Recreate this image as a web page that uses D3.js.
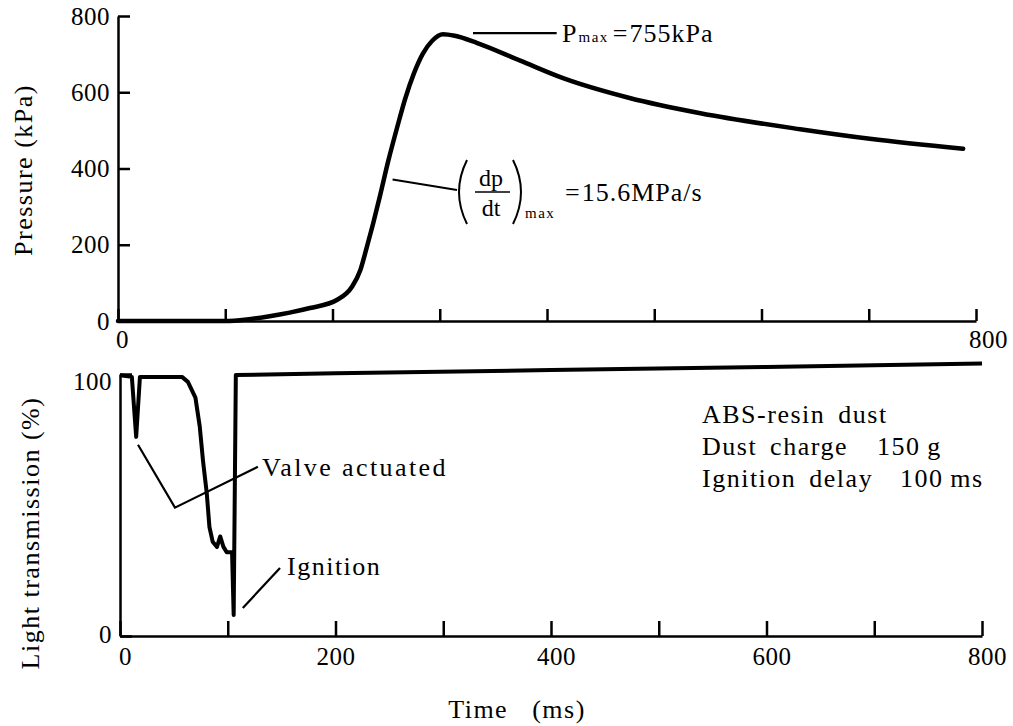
<!DOCTYPE html>
<html lang="en">
<head>
<meta charset="utf-8">
<title>Pressure and light transmission vs time</title>
<script src="https://cdn.jsdelivr.net/npm/d3@7/dist/d3.min.js"></script>
<style>
  body { margin: 0; background: #fff; }
  svg text { font-family: 'Liberation Serif', 'DejaVu Serif', 'Noto Serif', 'Tinos', 'FreeSerif', 'Times New Roman', Times, serif !important; fill: #000; }
  .axis path, .axis line { stroke: #000; stroke-width: 2.5; }
  .axis text { font-size: 25px; letter-spacing: 0.5px; }
  .lbl { font-size: 26px; letter-spacing: 1.5px; }
</style>
</head>
<body>
<script>
// pressure trace (ms, kPa)
const timeP = [0, 50, 100, 120, 140, 160, 179, 204, 218, 226, 232, 238, 244, 252, 260, 268, 276, 284, 293, 303, 314, 335, 375, 415, 477, 543, 636, 701, 788];
const pressure = [0, 0, 0, 4, 12, 22, 34, 55, 89, 134, 194, 257, 325, 420, 505, 585, 650, 700, 735, 752, 748, 729, 683, 637, 585, 545, 503, 478, 452];

// light transmission trace (ms, %)
const timeL = [0, 11, 15, 18.5, 57.5, 63, 70, 74, 77, 80.5, 83, 86, 90, 93, 96, 99, 104, 105.5, 107.5, 200, 400, 600, 800];
const light = [99.5, 98.9, 76, 98.9, 98.9, 97, 91, 80, 67, 54.6, 41.6, 36, 34, 38, 34, 32, 32, 8, 99.6, 100.3, 101.5, 102.7, 104];

const xTicks = [0, 100, 200, 300, 400, 500, 600, 700, 800];
const pTicks = [0, 200, 400, 600, 800];
const lTicks = [0, 100];

const w = 1013, h = 726;
const svg = d3.select("body").append("svg").attr("width", w).attr("height", h);
svg.append("rect").attr("width", w).attr("height", h).attr("fill", "#fff");

const xTop = d3.scaleLinear().domain([0, 800]).range([118, 976]);
const yP = d3.scaleLinear().domain([0, 800]).range([321, 16]);
const xBot = d3.scaleLinear().domain([0, 800]).range([120, 982]);
const yL = d3.scaleLinear().domain([0, 100]).range([636, 374]);

// ---- top panel axes
const gxTop = svg.append("g").attr("class", "axis")
  .attr("transform", "translate(0," + yP(0) + ")")
  .call(d3.axisBottom(xTop).tickValues(xTicks).tickSize(-12).tickSizeOuter(0)
    .tickFormat(d => (d === 0 || d === 800) ? d : ""));
gxTop.selectAll("text").attr("y", 27).attr("dy", 0).attr("dx", d => d === 800 ? 12 : 4);

const gyTop = svg.append("g").attr("class", "axis")
  .attr("transform", "translate(" + xTop(0) + ",0)")
  .call(d3.axisLeft(yP).tickValues(pTicks).tickSize(-12).tickSizeOuter(0));
gyTop.selectAll("text").attr("x", -8);

// ---- bottom panel axes
const gxBot = svg.append("g").attr("class", "axis")
  .attr("transform", "translate(0," + yL(0) + ")")
  .call(d3.axisBottom(xBot).tickValues(xTicks).tickSize(-15).tickSizeOuter(0)
    .tickFormat(d => d % 200 === 0 ? d : ""));
gxBot.selectAll("text").attr("y", 29).attr("dy", 0).attr("dx", d => d === 200 ? 0 : 5);

const gyBot = svg.append("g").attr("class", "axis")
  .attr("transform", "translate(" + xBot(0) + ",0)")
  .call(d3.axisLeft(yL).tickValues(lTicks).tickSize(-12).tickSizeOuter(0));
gyBot.selectAll("text").attr("x", -8).attr("dy", d => d === 100 ? "0.62em" : "0.25em");

svg.selectAll(".axis").attr("font-family", null);

// ---- curves
const pData = timeP.map((t, i) => ({ t: t, v: pressure[i] }));
const lData = timeL.map((t, i) => ({ t: t, v: light[i] }));

svg.append("path").datum(pData)
  .attr("fill", "none").attr("stroke", "#000").attr("stroke-width", 4.5)
  .attr("stroke-linecap", "round").attr("stroke-linejoin", "round")
  .attr("d", d3.line().x(d => xTop(d.t)).y(d => yP(d.v)).curve(d3.curveMonotoneX));

svg.append("path").datum(lData)
  .attr("fill", "none").attr("stroke", "#000").attr("stroke-width", 4)
  .attr("stroke-linejoin", "round")
  .attr("d", d3.line().x(d => xBot(d.t)).y(d => yL(d.v)).curve(d3.curveLinear));

// ---- axis titles
svg.append("text").attr("class", "lbl")
  .attr("transform", "translate(32,170) rotate(-90)")
  .attr("text-anchor", "middle").text("Pressure (kPa)");
svg.append("text").attr("class", "lbl")
  .attr("transform", "translate(39,533) rotate(-90)")
  .attr("text-anchor", "middle").text("Light transmission (%)");
svg.append("text").attr("class", "lbl")
  .attr("x", 517).attr("y", 718).attr("text-anchor", "middle")
  .attr("xml:space", "preserve").text("Time   (ms)");

// ---- annotations, top panel
const ln = (x1, y1, x2, y2, sw) => svg.append("line")
  .attr("x1", x1).attr("y1", y1).attr("x2", x2).attr("y2", y2)
  .attr("stroke", "#000").attr("stroke-width", sw || 2);

ln(xTop(331), yP(755), xTop(409), yP(755), 2.2);
const pm = svg.append("text").attr("y", 42).attr("font-size", 26);
pm.append("tspan").attr("x", 562).text("P");
pm.append("tspan").attr("font-size", 15).attr("dx", 2).attr("letter-spacing", 1.5).text("max");
pm.append("tspan").attr("dx", 4).text("=");
pm.append("tspan").attr("dx", 2).attr("letter-spacing", 1).text("755kPa");

ln(xTop(256), yP(371), 457, 190, 2);
svg.append("path").attr("d", "M467,160 Q451,192 467,224").attr("fill", "none").attr("stroke", "#000").attr("stroke-width", 2);
svg.append("path").attr("d", "M513,160 Q529,192 513,224").attr("fill", "none").attr("stroke", "#000").attr("stroke-width", 2);
svg.append("text").attr("x", 491).attr("y", 186).attr("font-size", 24).attr("text-anchor", "middle").text("dp");
ln(475, 192, 510, 192, 1.5);
svg.append("text").attr("x", 491).attr("y", 216).attr("font-size", 24).attr("text-anchor", "middle").text("dt");
svg.append("text").attr("x", 525).attr("y", 218).attr("font-size", 15).attr("letter-spacing", 1.5).text("max");
const dq = svg.append("text").attr("y", 201).attr("font-size", 26);
dq.append("tspan").attr("x", 565).text("=");
dq.append("tspan").attr("dx", 2).attr("letter-spacing", 1).text("15.6MPa/s");

// ---- annotations, bottom panel
svg.append("polyline")
  .attr("points", [[xBot(16.7), yL(73)], [xBot(51), yL(49)], [xBot(128), yL(64.6)]].map(p => p.join(",")).join(" "))
  .attr("fill", "none").attr("stroke", "#000").attr("stroke-width", 2.2);
svg.append("text").attr("class", "lbl").attr("x", 262).attr("y", 476)
  .attr("letter-spacing", 2.4).style("letter-spacing", "2.4px").text("Valve actuated");

ln(xBot(114), yL(10.7), xBot(148.5), yL(26), 2.2);
svg.append("text").attr("class", "lbl").attr("x", 287).attr("y", 575).text("Ignition");

const info = [
  ["ABS-resin dust", ""],
  ["Dust charge", "150\u2009g"],
  ["Ignition delay", "100\u2009ms"]
];
const infoX = [null, 877, 900];
info.forEach((r, i) => {
  svg.append("text").attr("class", "lbl").attr("x", 702).attr("y", 423 + i * 32)
    .attr("word-spacing", 5).text(r[0]);
  if (r[1]) svg.append("text").attr("class", "lbl").attr("x", infoX[i]).attr("y", 423 + i * 32).text(r[1]);
});
</script>
</body>
</html>
